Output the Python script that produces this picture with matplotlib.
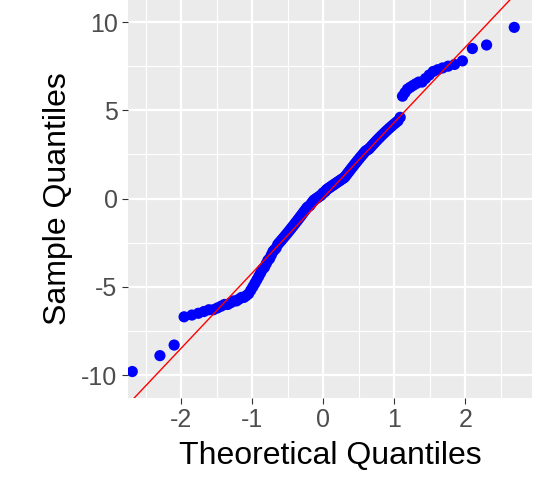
import numpy as np
import matplotlib.pyplot as plt
from statistics import NormalDist

plt.rcParams['font.family'] = ['Liberation Sans', 'DejaVu Sans']
plt.rcParams['axes.unicode_minus'] = False

# sorted sample values (n = 140)
sample = [-9.8, -8.9, -8.3,
          -6.7, -6.6, -6.5, -6.4, -6.3, -6.3, -6.2, -6.1, -6.0, -6.0, -5.9, -5.8, -5.8, -5.7, -5.6, -5.6, -5.5, -5.4, -5.2,
          -5.0, -4.8, -4.6, -4.4, -4.2, -4.0, -3.9, -3.7, -3.5, -3.4, -3.2, -3.0, -2.9, -2.8, -2.6, -2.5, -2.4, -2.3, -2.2,
          -2.1, -2.0, -1.9, -1.8, -1.7, -1.6, -1.5,
          -1.4, -1.3, -1.2, -1.1, -1.0, -0.9, -0.8, -0.7, -0.6, -0.5, -0.45, -0.4, -0.3, -0.2, -0.1, -0.05, 0.0, 0.05,
          0.1, 0.15, 0.2, 0.3, 0.35, 0.4, 0.5, 0.55, 0.6, 0.65, 0.7, 0.75, 0.8, 0.85, 0.9, 0.95, 1.0, 1.05, 1.1, 1.15, 1.2,
          1.3, 1.4, 1.5, 1.6, 1.7, 1.8, 1.9, 2.0, 2.1, 2.2, 2.3, 2.4, 2.5, 2.6, 2.7, 2.75, 2.8, 2.9, 3.0, 3.1,
          3.2, 3.3, 3.4, 3.5, 3.6, 3.7, 3.8, 3.9, 4.0, 4.1, 4.2, 4.3, 4.4, 4.6,
          5.8, 6.0, 6.2, 6.3, 6.4, 6.5, 6.6, 6.6, 6.8, 7.0, 7.2, 7.3, 7.4, 7.5, 7.6,
          7.8, 8.5, 8.7, 9.7]
x_ticks = [-2, -1, 0, 1, 2]
y_ticks = [-10, -5, 0, 5, 10]

sample = np.sort(np.array(sample))
n = len(sample)
nd = NormalDist()
theo = np.array([nd.inv_cdf((i - 0.5) / n) for i in range(1, n + 1)])

# qq line through the quartiles
q1, q3 = np.quantile(sample, [0.25, 0.75])
z1, z3 = nd.inv_cdf(0.25), nd.inv_cdf(0.75)
slope = (q3 - q1) / (z3 - z1)
intercept = q1 - slope * z1

fig = plt.figure(figsize=(5.51, 4.91), dpi=100)
ax = fig.add_axes([128 / 551, 93 / 491, 404 / 551, 398 / 491])
ax.set_facecolor('#EBEBEB')
for s in ax.spines.values():
    s.set_visible(False)

xlim = (-2.75, 2.94)
ylim = (-11.3, 11.25)
ax.set_xlim(xlim)
ax.set_ylim(ylim)
ax.set_xticks(x_ticks)
ax.set_yticks(y_ticks)
ax.set_xticks([-2.5, -1.5, -0.5, 0.5, 1.5, 2.5], minor=True)
ax.set_yticks([-7.5, -2.5, 2.5, 7.5], minor=True)
ax.grid(True, which='major', color='white', lw=1.6)
ax.grid(True, which='minor', color='white', lw=0.8)
ax.set_axisbelow(True)
ax.tick_params(which='minor', length=0)
ax.tick_params(which='major', length=4, color='#333333', labelsize=18, labelcolor='#4D4D4D')

ax.scatter(theo, sample, s=65, color='#0000FF', zorder=3, edgecolors='none')
xs = np.array(xlim)
ax.plot(xs, intercept + slope * xs, color='red', lw=1, zorder=4)

ax.set_xlabel('Theoretical Quantiles', fontsize=23, color='black', labelpad=6)
ax.set_ylabel('Sample Quantiles', fontsize=23, color='black', labelpad=6)

fig.savefig('out.png', dpi=100)
